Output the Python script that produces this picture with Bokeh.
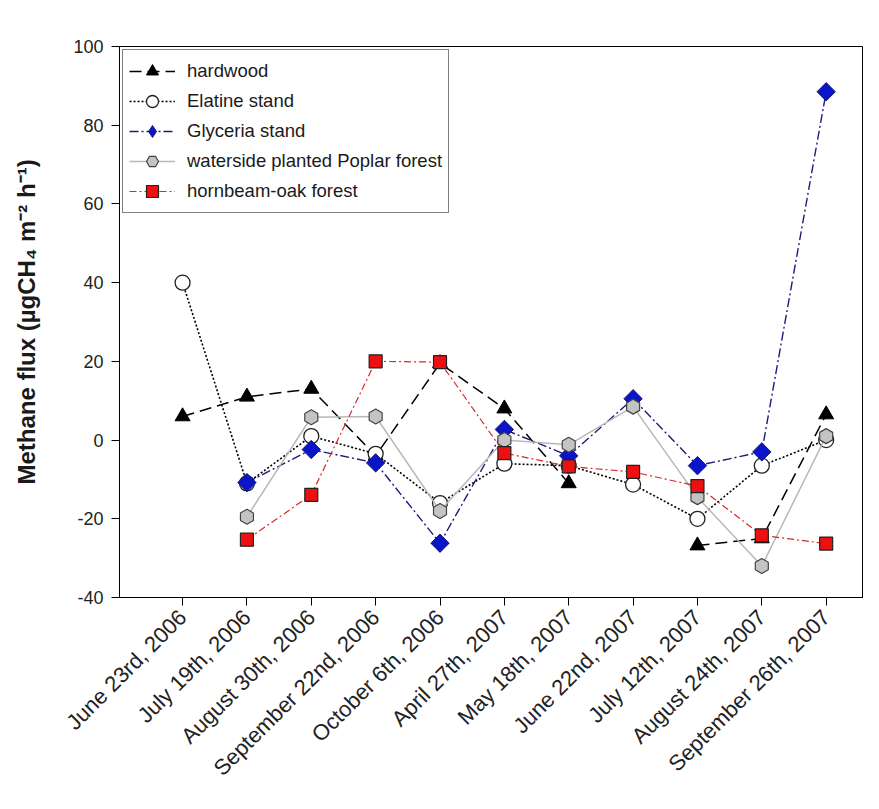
import math
from bokeh.plotting import figure
from bokeh.models import Range1d, FixedTicker, Legend, LegendItem
from bokeh.embed import file_html
from bokeh.resources import INLINE

nan = float("nan")

dates = ["June 23rd, 2006", "July 19th, 2006", "August 30th, 2006",
         "September 22nd, 2006", "October 6th, 2006", "April 27th, 2007",
         "May 18th, 2007", "June 22nd, 2007", "July 12th, 2007",
         "August 24th, 2007", "September 26th, 2007"]

hardwood = [6, 11, 13, -4, 19.5, 8, -11, nan, -26.8, -25, 6.5]
elatine = [40, -11, 1, -3.5, -16, -6, -6.5, -11.3, -20, -6.5, 0]
glyceria = [nan, -10.8, -2.4, -5.8, -26.2, 2.7, -4, 10.5, -6.5, -3, 88.5]
poplar = [nan, -19.5, 5.8, 6, -18, 0, -1.2, 8.5, -14.5, -32, 1]
hornbeam = [nan, -25.3, -13.9, 20, 19.8, -3.3, -6.7, -8.1, -11.7, -24.2, -26.3]

y_ticks = [-40, -20, 0, 20, 40, 60, 80, 100]
y_tick_labels = ["-40", "-20", "0", "20", "40", "60", "80", "100"]

FONT = "Liberation Sans"
xs = list(range(len(dates)))

p = figure(width=863, height=793, x_range=Range1d(-0.98, 10.58), y_range=Range1d(-40, 100),
           output_backend="svg", toolbar_location=None,
           min_border_left=119, min_border_right=0, min_border_top=46, min_border_bottom=196)

p.xgrid.visible = False
p.ygrid.visible = False
p.outline_line_color = "black"
p.outline_line_width = 1
p.background_fill_color = "white"
p.border_fill_color = "white"

series = [
    ("hardwood", hardwood, dict(line_color="black", line_dash="12 6", line_width=1.5),
     dict(marker="triangle", size=15, fill_color="black", line_color="black"), None),
    ("Elatine stand", elatine, dict(line_color="black", line_dash="2 2", line_width=1.6),
     dict(marker="circle", size=15, fill_color="white", line_color="#222222", line_width=1.3), None),
    ("Glyceria stand", glyceria, dict(line_color="#1c1c78", line_dash="9 3 2 3", line_width=1.4),
     dict(marker="square", angle=math.pi / 4, size=13, fill_color="#0a14c8", line_color="#1c1c78", line_width=1),
     dict(marker="diamond", size=17, fill_color="#0a14c8", line_color="#1c1c78", line_width=1)),
    ("waterside planted Poplar forest", poplar, dict(line_color="#b8b8b8", line_width=1.5),
     dict(marker="hex", angle=math.pi / 2, size=15, fill_color="#c4c4c4", line_color="#444444", line_width=1.2), None),
    ("hornbeam-oak forest", hornbeam, dict(line_color="#d42a2a", line_dash="7 3 2 3", line_width=1.2),
     dict(marker="square", size=13, fill_color="#ee1010", line_color="#222222", line_width=1.2), None),
]

items = []
for name, vals, lstyle, mstyle, legend_marker in series:
    lr = p.line(xs, vals, **lstyle)
    if legend_marker is not None:
        # plain diamond (hidden under the rotated square) used as the legend swatch
        lm = p.scatter(xs, vals, **legend_marker)
        p.scatter(xs, vals, **mstyle)
        items.append(LegendItem(label=name, renderers=[lr, lm]))
    else:
        sr = p.scatter(xs, vals, **mstyle)
        items.append(LegendItem(label=name, renderers=[lr, sr]))

legend = Legend(items=items, location="top_left", margin=3, padding=6,
                glyph_width=46, glyph_height=30, label_height=30, spacing=0,
                label_standoff=12, label_text_font=FONT, label_text_font_size="18.5px",
                label_text_color="#1a1a1a", border_line_color="black", border_line_width=1,
                background_fill_alpha=1.0)
p.add_layout(legend)

p.xaxis.ticker = FixedTicker(ticks=xs)
p.xaxis.major_label_overrides = {i: d for i, d in zip(xs, dates)}
p.xaxis.major_label_orientation = math.pi / 4
p.xaxis.major_label_text_font = FONT
p.xaxis.major_label_text_font_size = "22px"
p.xaxis.major_label_text_color = "#222222"

p.yaxis.ticker = FixedTicker(ticks=y_ticks)
p.yaxis.major_label_overrides = {t: s for t, s in zip(y_ticks, y_tick_labels)}
p.yaxis.major_label_text_font = FONT
p.yaxis.major_label_text_font_size = "18px"
p.yaxis.major_label_text_color = "#222222"
p.yaxis.axis_label = "Methane flux (µgCH\u2084 m\u207b\u00b2 h\u207b\u00b9)"
p.yaxis.axis_label_text_font = FONT
p.yaxis.axis_label_text_font_size = "24px"
p.yaxis.axis_label_text_font_style = "bold"
p.yaxis.axis_label_text_color = "#1a1a1a"
p.yaxis.axis_label_standoff = 30

for ax in (p.xaxis, p.yaxis):
    ax.axis_line_color = "black"
    ax.major_tick_line_color = "black"
    ax.major_tick_out = 8
    ax.major_tick_in = 0
    ax.minor_tick_line_color = None
    ax.major_label_standoff = 8

open("out.html", "w").write(file_html(p, INLINE))
